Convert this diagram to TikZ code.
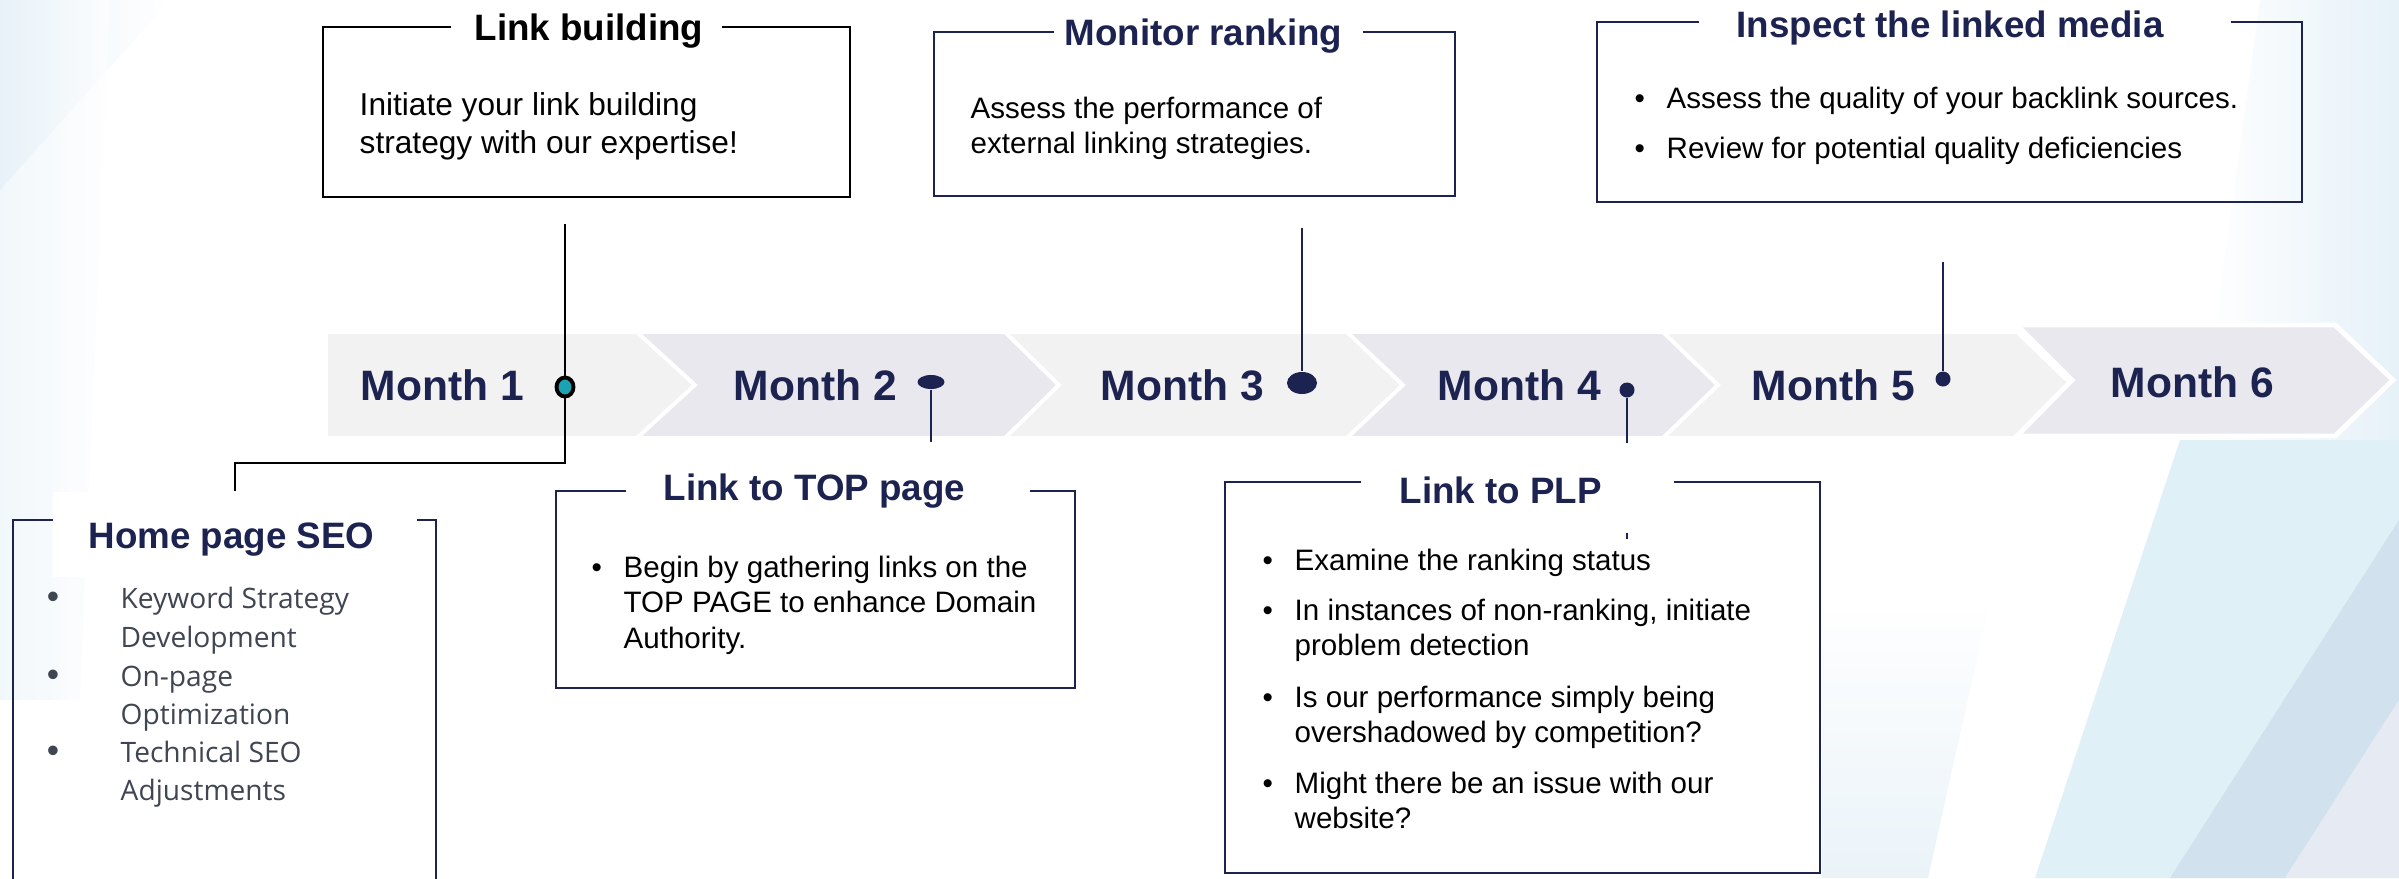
\documentclass[tikz,border=0pt]{standalone}
\usepackage{fontspec}
\setmainfont{Liberation Sans}
\newfontfamily\osans{Open Sans}
\usetikzlibrary{shapes.geometric}
\definecolor{navy}{HTML}{1D2350}
\definecolor{segA}{HTML}{F2F2F2}
\definecolor{segB}{HTML}{E8E8EE}
\definecolor{dotteal}{HTML}{19A3B3}
\definecolor{hgray}{HTML}{404552}
\definecolor{bgblue}{HTML}{DFF0F7}
\definecolor{bgband}{HTML}{D2E1EE}
\definecolor{bglav}{HTML}{E5EAF3}
\definecolor{bgfaint}{HTML}{E6F1F8}
\begin{document}
\begin{tikzpicture}[x=0.01cm,y=-0.01cm,
  ttl/.style={anchor=base west, inner sep=0, text=navy, font=\fontsize{10.45pt}{12pt}\selectfont\bfseries},
  mon/.style={anchor=base west, inner sep=0, text=navy, font=\fontsize{12.1pt}{14pt}\selectfont\bfseries},
  bodyA/.style={anchor=base west, inner sep=0, text=black, font=\fontsize{9pt}{11pt}\selectfont},
  bodyB/.style={anchor=base west, inner sep=0, text=black, font=\fontsize{8.4pt}{10pt}\selectfont},
  hseo/.style={anchor=base west, inner sep=0, text=hgray, font=\osans\fontsize{8pt}{10pt}\selectfont},
  hbul/.style={anchor=base, inner sep=0, text=hgray, font=\fontsize{10pt}{12pt}\selectfont},
  navybox/.style={draw=navy, line width=0.8pt},
  blkbox/.style={draw=black, line width=0.8pt},
  navyline/.style={draw=navy, line width=0.7pt},
  blkline/.style={draw=black, line width=0.7pt},
  seg/.style={draw=white, line width=1.1pt, line join=miter},
  dotnavy/.style={fill=navy, draw=none, inner sep=0}
]
\useasboundingbox (0,0) rectangle (2399,878);
% ---------- background ----------
\fill[white] (0,0) rectangle (2399,878);
\shade[left color=bgfaint, right color=white, opacity=0.8] (0,0) -- (170,0) -- (0,190) -- cycle;
\shade[left color=bgfaint, right color=white, opacity=0.5] (0,0) -- (110,0) -- (80,700) -- (0,700) -- cycle;
\shade[left color=white, right color=bgfaint] (2260,0) -- (2399,0) -- (2399,440) -- (2200,440) -- cycle;
\shade[top color=white, bottom color=bgfaint, opacity=0.8] (1822,600) -- (1990,600) -- (1928,878) -- (1822,878) -- cycle;
\fill[bgblue] (2035,878) -- (2399,878) -- (2399,440) -- (2180,440) -- cycle;
\fill[bgband] (2170,878) -- (2285,878) -- (2399,700) -- (2399,520) -- cycle;
\fill[bglav] (2285,878) -- (2399,878) -- (2399,700) -- cycle;
% ---------- chevron bar ----------
\filldraw[seg, fill=segA] (326,332) -- (637,332) -- (695,385) -- (637,438) -- (326,438) -- cycle;
\filldraw[seg, fill=segB] (637,332) -- (1005,332) -- (1059,385) -- (1005,438) -- (637,438) -- (695,385) -- cycle;
\filldraw[seg, fill=segA] (1005,332) -- (1347,332) -- (1403,385) -- (1347,438) -- (1005,438) -- (1059,385) -- cycle;
\filldraw[seg, fill=segB] (1347,332) -- (1663,332) -- (1718,385) -- (1663,438) -- (1347,438) -- (1403,385) -- cycle;
\filldraw[seg, fill=segA] (1663,332) -- (2017,332) -- (2072,385) -- (2017,438) -- (1663,438) -- (1718,385) -- cycle;
\filldraw[seg, fill=segB, line width=1.4pt] (2017,325) -- (2335,325) -- (2393,380) -- (2335,436) -- (2017,436) -- (2072,380) -- cycle;
\node[mon] (m1) at (360,400) {Month 1};
\node[mon] (m2) at (733,400) {Month 2};
\node[mon] (m3) at (1100,400) {Month 3};
\node[mon] (m4) at (1437,400) {Month 4};
\node[mon] (m5) at (1751,400) {Month 5};
\node[mon] (m6) at (2110,397) {Month 6};
% ---------- boxes ----------
\draw[blkbox] (451,27) -- (323,27) -- (323,197) -- (850,197) -- (850,27) -- (722,27);
\draw[navybox] (1054,32) -- (934,32) -- (934,196) -- (1455,196) -- (1455,32) -- (1363,32);
\draw[navybox] (1699,22) -- (1597,22) -- (1597,202) -- (2302,202) -- (2302,22) -- (2231,22);
\draw[navybox] (626,491) -- (556,491) -- (556,688) -- (1075,688) -- (1075,491) -- (1030,491);
\draw[navybox] (1361,482) -- (1225,482) -- (1225,873) -- (1820,873) -- (1820,482) -- (1674,482);
\draw[navybox] (13,890) -- (13,520) -- (436,520) -- (436,890);
\node[fill=white, draw=none, inner sep=0, minimum width=3.64cm, minimum height=0.85cm] (homehdr) at (235,534.5) {};
% ---------- titles ----------
\node[ttl, text=black] (lbt) at (474,40) {Link building};
\node[ttl] (mrt) at (1064,45) {Monitor ranking};
\node[ttl] (int) at (1736,37) {Inspect the linked media};
\node[ttl] (topt) at (663,500) {Link to TOP page};
\node[ttl] (plpt) at (1399,503) {Link to PLP};
\node[ttl] (homet) at (88,548) {Home page SEO};
% ---------- body texts ----------
\node[bodyA] (lb1) at (359,115) {Initiate your link building};
\node[bodyA] (lb2) at (359,153) {strategy with our expertise!};
\node[bodyB] (mr1) at (970,118) {Assess the performance of};
\node[bodyB] (mr2) at (970,153) {external linking strategies.};
\node[bodyB] (inb1) at (1634,108) {•};
\node[bodyB] (in1) at (1666,108) {Assess the quality of your backlink sources.};
\node[bodyB] (inb2) at (1634,158) {•};
\node[bodyB] (in2) at (1666,158) {Review for potential quality deficiencies};
\node[bodyB] (topb1) at (591,577) {•};
\node[bodyB] (top1) at (623,577) {Begin by gathering links on the};
\node[bodyB] (top2) at (623,612) {TOP PAGE to enhance Domain};
\node[bodyB] (top3) at (623,648) {Authority.};
\node[bodyB] (plpb1) at (1262,570) {•};
\node[bodyB] (plp1) at (1294,570) {Examine the ranking status};
\node[bodyB] (plpb2) at (1262,620) {•};
\node[bodyB] (plp2) at (1294,620) {In instances of non-ranking, initiate};
\node[bodyB] (plp3) at (1294,655) {problem detection};
\node[bodyB] (plpb3) at (1262,707) {•};
\node[bodyB] (plp4) at (1294,707) {Is our performance simply being};
\node[bodyB] (plp5) at (1294,742) {overshadowed by competition?};
\node[bodyB] (plpb4) at (1262,793) {•};
\node[bodyB] (plp6) at (1294,793) {Might there be an issue with our};
\node[bodyB] (plp7) at (1294,828) {website?};
\node[hbul] (hb1) at (53,608) {•};
\node[hseo] (h1) at (120,608) {Keyword Strategy};
\node[hseo] (h2) at (120,647) {Development};
\node[hbul] (hb2) at (53,686) {•};
\node[hseo] (h3) at (120,686) {On-page};
\node[hseo] (h4) at (120,724) {Optimization};
\node[hbul] (hb3) at (53,762) {•};
\node[hseo] (h5) at (120,762) {Technical SEO};
\node[hseo] (h6) at (120,800) {Adjustments};
% ---------- connector ends ----------
\coordinate (lbend) at (565,224);
\coordinate (m2end) at (931,442);
\coordinate (mrend) at (1302,228);
\coordinate (m4end) at (1627,443);
\coordinate (inend) at (1943,262);
\coordinate (tickA) at (1627,533);
\coordinate (tickB) at (1627,539);
% ---------- dots ----------
\node[ellipse, draw=black, line width=1.1pt, fill=dotteal, minimum width=0.17cm, minimum height=0.19cm, inner sep=0] (d1) at (565,387) {};
\node[ellipse, dotnavy, minimum width=0.27cm, minimum height=0.14cm] (d2) at (931,382) {};
\node[ellipse, dotnavy, minimum width=0.30cm, minimum height=0.22cm] (d3) at (1302,383) {};
\node[circle, dotnavy, minimum size=0.15cm] (d4) at (1627,390) {};
\node[circle, dotnavy, minimum size=0.15cm] (d5) at (1943,379) {};
% ---------- connectors ----------
\draw[blkline] (lbend) -- (d1.north);
\draw[blkline] (d1.south) -- (565,463) -| (homehdr.north);
\draw[navyline] (d2.south) -- (m2end);
\draw[navyline] (mrend) -- (d3.north);
\draw[navyline] (d4.south) -- (m4end);
\draw[navyline] (inend) -- (d5.north);
\draw[navyline, line width=0.5pt] (tickA) -- (tickB);
\end{tikzpicture}
\end{document}
